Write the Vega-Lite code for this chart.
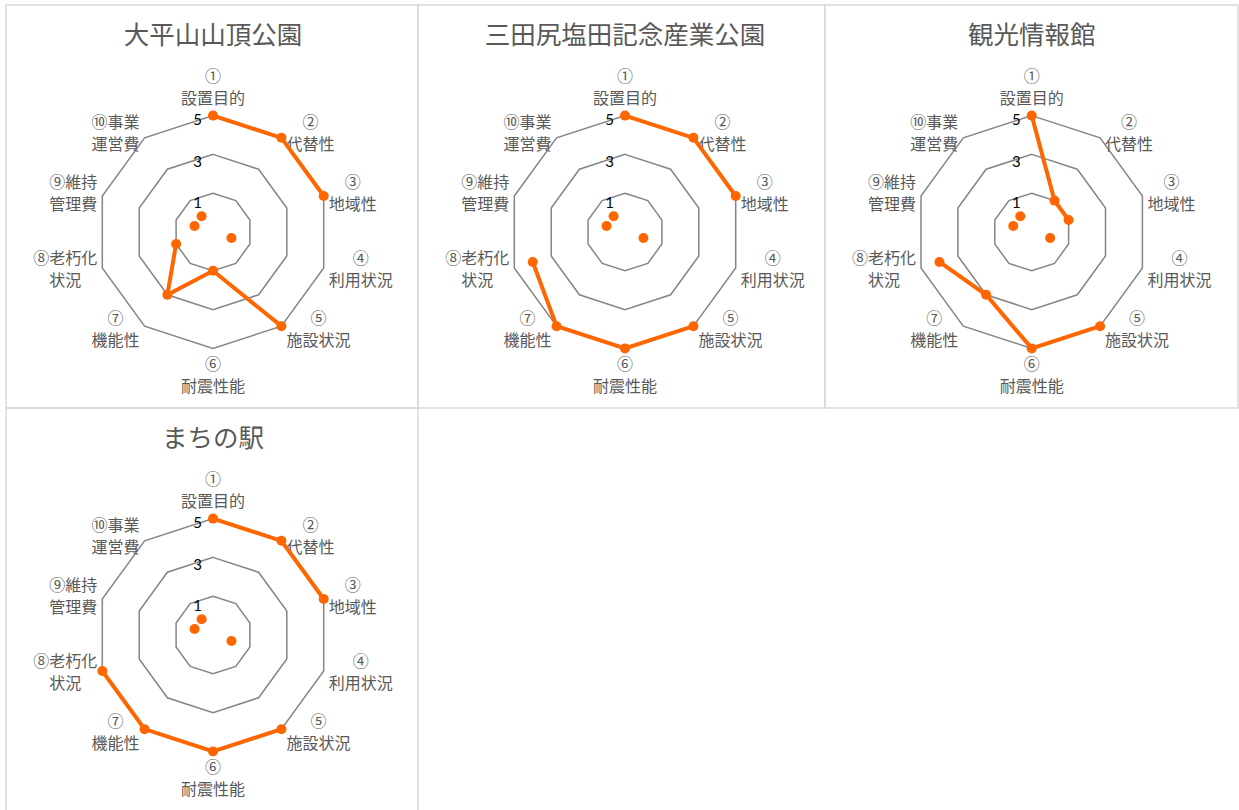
{
  "$schema": "https://vega.github.io/schema/vega-lite/v6.json",
  "background": "white",
  "padding": {"left": 5, "top": 4, "right": 0, "bottom": 0},
  "bounds": "flush",
  "align": "each",
  "config": {
    "view": {"stroke": "#d9d9d9", "strokeWidth": 1.5},
    "concat": {"spacing": 0},
    "text": {"font": "Noto Sans CJK JP"}
  },
  "datasets": {
    "scores": [
      {"facility": "大平山山頂公園", "i": 1, "v": 5},
      {"facility": "大平山山頂公園", "i": 2, "v": 5},
      {"facility": "大平山山頂公園", "i": 3, "v": 5},
      {"facility": "大平山山頂公園", "i": 4, "v": null},
      {"facility": "大平山山頂公園", "i": 5, "v": 5},
      {"facility": "大平山山頂公園", "i": 6, "v": 1},
      {"facility": "大平山山頂公園", "i": 7, "v": 3},
      {"facility": "大平山山頂公園", "i": 8, "v": 1},
      {"facility": "大平山山頂公園", "i": 9, "v": null},
      {"facility": "大平山山頂公園", "i": 10, "v": null},
      {"facility": "三田尻塩田記念産業公園", "i": 1, "v": 5},
      {"facility": "三田尻塩田記念産業公園", "i": 2, "v": 5},
      {"facility": "三田尻塩田記念産業公園", "i": 3, "v": 5},
      {"facility": "三田尻塩田記念産業公園", "i": 4, "v": null},
      {"facility": "三田尻塩田記念産業公園", "i": 5, "v": 5},
      {"facility": "三田尻塩田記念産業公園", "i": 6, "v": 5},
      {"facility": "三田尻塩田記念産業公園", "i": 7, "v": 5},
      {"facility": "三田尻塩田記念産業公園", "i": 8, "v": 4},
      {"facility": "三田尻塩田記念産業公園", "i": 9, "v": null},
      {"facility": "三田尻塩田記念産業公園", "i": 10, "v": null},
      {"facility": "観光情報館", "i": 1, "v": 5},
      {"facility": "観光情報館", "i": 2, "v": 1},
      {"facility": "観光情報館", "i": 3, "v": 1},
      {"facility": "観光情報館", "i": 4, "v": null},
      {"facility": "観光情報館", "i": 5, "v": 5},
      {"facility": "観光情報館", "i": 6, "v": 5},
      {"facility": "観光情報館", "i": 7, "v": 3},
      {"facility": "観光情報館", "i": 8, "v": 4},
      {"facility": "観光情報館", "i": 9, "v": null},
      {"facility": "観光情報館", "i": 10, "v": null},
      {"facility": "まちの駅", "i": 1, "v": 5},
      {"facility": "まちの駅", "i": 2, "v": 5},
      {"facility": "まちの駅", "i": 3, "v": 5},
      {"facility": "まちの駅", "i": 4, "v": null},
      {"facility": "まちの駅", "i": 5, "v": 5},
      {"facility": "まちの駅", "i": 6, "v": 5},
      {"facility": "まちの駅", "i": 7, "v": 5},
      {"facility": "まちの駅", "i": 8, "v": 5},
      {"facility": "まちの駅", "i": 9, "v": null},
      {"facility": "まちの駅", "i": 10, "v": null}
    ],
    "grid": [
      {"ring": 1, "i": 1}, {"ring": 1, "i": 2}, {"ring": 1, "i": 3}, {"ring": 1, "i": 4}, {"ring": 1, "i": 5},
      {"ring": 1, "i": 6}, {"ring": 1, "i": 7}, {"ring": 1, "i": 8}, {"ring": 1, "i": 9}, {"ring": 1, "i": 10},
      {"ring": 3, "i": 1}, {"ring": 3, "i": 2}, {"ring": 3, "i": 3}, {"ring": 3, "i": 4}, {"ring": 3, "i": 5},
      {"ring": 3, "i": 6}, {"ring": 3, "i": 7}, {"ring": 3, "i": 8}, {"ring": 3, "i": 9}, {"ring": 3, "i": 10},
      {"ring": 5, "i": 1}, {"ring": 5, "i": 2}, {"ring": 5, "i": 3}, {"ring": 5, "i": 4}, {"ring": 5, "i": 5},
      {"ring": 5, "i": 6}, {"ring": 5, "i": 7}, {"ring": 5, "i": 8}, {"ring": 5, "i": 9}, {"ring": 5, "i": 10}
    ],
    "axes": [
      {"i": 1, "lab": ["①", "設置目的"]},
      {"i": 2, "lab": ["②", "代替性"]},
      {"i": 3, "lab": ["③", "地域性"]},
      {"i": 4, "lab": ["④", "利用状況"]},
      {"i": 5, "lab": ["⑤", "施設状況"]},
      {"i": 6, "lab": ["⑥", "耐震性能"]},
      {"i": 7, "lab": ["⑦", "機能性"]},
      {"i": 8, "lab": ["⑧老朽化", "状況"]},
      {"i": 9, "lab": ["⑨維持", "管理費"]},
      {"i": 10, "lab": ["⑩事業", "運営費"]}
    ]
  },
  "columns": 3,
  "concat": [
    {
      "width": 412, "height": 403,
      "layer": [
        {"data": {"name": "grid"},
         "transform": [
           {"calculate": "19.4*(datum.ring+1)*sin((datum.i-1)*PI/5)", "as": "x"},
           {"calculate": "19.4*(datum.ring+1)*cos((datum.i-1)*PI/5)", "as": "y"}],
         "mark": {"type": "line", "interpolate": "linear-closed", "color": "#858585", "strokeWidth": 1.5},
         "encoding": {
           "x": {"field": "x", "type": "quantitative", "scale": {"domain": [-207, 205], "nice": false, "zero": false}, "axis": null},
           "y": {"field": "y", "type": "quantitative", "scale": {"domain": [-176, 227], "nice": false, "zero": false}, "axis": null},
           "detail": {"field": "ring", "type": "nominal"},
           "order": {"field": "i", "type": "quantitative"}}},
        {"data": {"name": "grid"},
         "transform": [{"filter": "datum.i == 1"}, {"calculate": "20.72*(datum.ring+1)-12.6", "as": "y"}],
         "mark": {"type": "text", "align": "right", "baseline": "middle", "dx": -11, "font": "Lato", "fontSize": 15, "color": "#000000"},
         "encoding": {
           "x": {"datum": 0, "type": "quantitative", "scale": {"domain": [-207, 205], "nice": false, "zero": false}, "axis": null},
           "y": {"field": "y", "type": "quantitative", "scale": {"domain": [-176, 227], "nice": false, "zero": false}, "axis": null},
           "text": {"field": "ring", "type": "nominal"}}},
        {"data": {"name": "axes"},
         "transform": [
           {"calculate": "sin((datum.i-1)*PI/5)", "as": "sn"},
           {"calculate": "cos((datum.i-1)*PI/5)", "as": "cs"},
           {"calculate": "datum.sn > 0.01 ? 1 : (datum.sn < -0.01 ? -1 : 0)", "as": "s"},
           {"calculate": "16*max(length(datum.lab[0]), length(datum.lab[1]))", "as": "w"},
           {"calculate": "116.4*datum.sn + datum.s*(5 + datum.w/2)", "as": "x"},
           {"calculate": "(datum.s == 0 ? 144.4 : 121.4)*datum.cs + 11", "as": "y"}],
         "mark": {"type": "text", "align": "center", "baseline": "middle", "fontSize": 16, "lineHeight": 22, "color": "#595959"},
         "encoding": {
           "x": {"field": "x", "type": "quantitative", "scale": {"domain": [-207, 205], "nice": false, "zero": false}, "axis": null},
           "y": {"field": "y", "type": "quantitative", "scale": {"domain": [-176, 227], "nice": false, "zero": false}, "axis": null},
           "text": {"field": "lab", "type": "nominal"}}},
        {"data": {"name": "scores"},
         "transform": [{"filter": "datum.facility == '大平山山頂公園' && datum.i == 1"}],
         "mark": {"type": "text", "align": "center", "baseline": "middle", "fontSize": 25.5, "color": "#595959"},
         "encoding": {
           "x": {"datum": 0, "type": "quantitative", "scale": {"domain": [-207, 205], "nice": false, "zero": false}, "axis": null},
           "y": {"datum": 196, "type": "quantitative", "scale": {"domain": [-176, 227], "nice": false, "zero": false}, "axis": null},
           "text": {"field": "facility", "type": "nominal"}}},
        {"data": {"name": "scores"},
         "transform": [
           {"filter": "datum.facility == '大平山山頂公園'"},
           {"calculate": "datum.v == null ? null : 19.4*(datum.v+1)*sin((datum.i-1)*PI/5)", "as": "x"},
           {"calculate": "datum.v == null ? null : 19.4*(datum.v+1)*cos((datum.i-1)*PI/5)", "as": "y"}],
         "mark": {"type": "line", "color": "#FF6600", "strokeWidth": 4, "invalid": "break-paths-filter-domains"},
         "encoding": {
           "x": {"field": "x", "type": "quantitative", "scale": {"domain": [-207, 205], "nice": false, "zero": false}, "axis": null},
           "y": {"field": "y", "type": "quantitative", "scale": {"domain": [-176, 227], "nice": false, "zero": false}, "axis": null},
           "order": {"field": "i", "type": "quantitative"}}},
        {"data": {"name": "scores"},
         "transform": [
           {"filter": "datum.facility == '大平山山頂公園'"},
           {"calculate": "datum.v == null ? 0 : datum.v", "as": "rv"},
           {"calculate": "19.4*(datum.rv+1)*sin((datum.i-1)*PI/5)", "as": "x"},
           {"calculate": "19.4*(datum.rv+1)*cos((datum.i-1)*PI/5)", "as": "y"}],
         "mark": {"type": "point", "shape": "circle", "filled": true, "opacity": 1, "color": "#FF6600", "size": 100},
         "encoding": {
           "x": {"field": "x", "type": "quantitative", "scale": {"domain": [-207, 205], "nice": false, "zero": false}, "axis": null},
           "y": {"field": "y", "type": "quantitative", "scale": {"domain": [-176, 227], "nice": false, "zero": false}, "axis": null}}}
      ]
    },
    {
      "width": 407, "height": 403,
      "layer": [
        {"data": {"name": "grid"},
         "transform": [
           {"calculate": "19.4*(datum.ring+1)*sin((datum.i-1)*PI/5)", "as": "x"},
           {"calculate": "19.4*(datum.ring+1)*cos((datum.i-1)*PI/5)", "as": "y"}],
         "mark": {"type": "line", "interpolate": "linear-closed", "color": "#858585", "strokeWidth": 1.5},
         "encoding": {
           "x": {"field": "x", "type": "quantitative", "scale": {"domain": [-207, 200], "nice": false, "zero": false}, "axis": null},
           "y": {"field": "y", "type": "quantitative", "scale": {"domain": [-176, 227], "nice": false, "zero": false}, "axis": null},
           "detail": {"field": "ring", "type": "nominal"},
           "order": {"field": "i", "type": "quantitative"}}},
        {"data": {"name": "grid"},
         "transform": [{"filter": "datum.i == 1"}, {"calculate": "20.72*(datum.ring+1)-12.6", "as": "y"}],
         "mark": {"type": "text", "align": "right", "baseline": "middle", "dx": -11, "font": "Lato", "fontSize": 15, "color": "#000000"},
         "encoding": {
           "x": {"datum": 0, "type": "quantitative", "scale": {"domain": [-207, 200], "nice": false, "zero": false}, "axis": null},
           "y": {"field": "y", "type": "quantitative", "scale": {"domain": [-176, 227], "nice": false, "zero": false}, "axis": null},
           "text": {"field": "ring", "type": "nominal"}}},
        {"data": {"name": "axes"},
         "transform": [
           {"calculate": "sin((datum.i-1)*PI/5)", "as": "sn"},
           {"calculate": "cos((datum.i-1)*PI/5)", "as": "cs"},
           {"calculate": "datum.sn > 0.01 ? 1 : (datum.sn < -0.01 ? -1 : 0)", "as": "s"},
           {"calculate": "16*max(length(datum.lab[0]), length(datum.lab[1]))", "as": "w"},
           {"calculate": "116.4*datum.sn + datum.s*(5 + datum.w/2)", "as": "x"},
           {"calculate": "(datum.s == 0 ? 144.4 : 121.4)*datum.cs + 11", "as": "y"}],
         "mark": {"type": "text", "align": "center", "baseline": "middle", "fontSize": 16, "lineHeight": 22, "color": "#595959"},
         "encoding": {
           "x": {"field": "x", "type": "quantitative", "scale": {"domain": [-207, 200], "nice": false, "zero": false}, "axis": null},
           "y": {"field": "y", "type": "quantitative", "scale": {"domain": [-176, 227], "nice": false, "zero": false}, "axis": null},
           "text": {"field": "lab", "type": "nominal"}}},
        {"data": {"name": "scores"},
         "transform": [{"filter": "datum.facility == '三田尻塩田記念産業公園' && datum.i == 1"}],
         "mark": {"type": "text", "align": "center", "baseline": "middle", "fontSize": 25.5, "color": "#595959"},
         "encoding": {
           "x": {"datum": 0, "type": "quantitative", "scale": {"domain": [-207, 200], "nice": false, "zero": false}, "axis": null},
           "y": {"datum": 196, "type": "quantitative", "scale": {"domain": [-176, 227], "nice": false, "zero": false}, "axis": null},
           "text": {"field": "facility", "type": "nominal"}}},
        {"data": {"name": "scores"},
         "transform": [
           {"filter": "datum.facility == '三田尻塩田記念産業公園'"},
           {"calculate": "datum.v == null ? null : 19.4*(datum.v+1)*sin((datum.i-1)*PI/5)", "as": "x"},
           {"calculate": "datum.v == null ? null : 19.4*(datum.v+1)*cos((datum.i-1)*PI/5)", "as": "y"}],
         "mark": {"type": "line", "color": "#FF6600", "strokeWidth": 4, "invalid": "break-paths-filter-domains"},
         "encoding": {
           "x": {"field": "x", "type": "quantitative", "scale": {"domain": [-207, 200], "nice": false, "zero": false}, "axis": null},
           "y": {"field": "y", "type": "quantitative", "scale": {"domain": [-176, 227], "nice": false, "zero": false}, "axis": null},
           "order": {"field": "i", "type": "quantitative"}}},
        {"data": {"name": "scores"},
         "transform": [
           {"filter": "datum.facility == '三田尻塩田記念産業公園'"},
           {"calculate": "datum.v == null ? 0 : datum.v", "as": "rv"},
           {"calculate": "19.4*(datum.rv+1)*sin((datum.i-1)*PI/5)", "as": "x"},
           {"calculate": "19.4*(datum.rv+1)*cos((datum.i-1)*PI/5)", "as": "y"}],
         "mark": {"type": "point", "shape": "circle", "filled": true, "opacity": 1, "color": "#FF6600", "size": 100},
         "encoding": {
           "x": {"field": "x", "type": "quantitative", "scale": {"domain": [-207, 200], "nice": false, "zero": false}, "axis": null},
           "y": {"field": "y", "type": "quantitative", "scale": {"domain": [-176, 227], "nice": false, "zero": false}, "axis": null}}}
      ]
    },
    {
      "width": 413, "height": 403,
      "layer": [
        {"data": {"name": "grid"},
         "transform": [
           {"calculate": "19.4*(datum.ring+1)*sin((datum.i-1)*PI/5)", "as": "x"},
           {"calculate": "19.4*(datum.ring+1)*cos((datum.i-1)*PI/5)", "as": "y"}],
         "mark": {"type": "line", "interpolate": "linear-closed", "color": "#858585", "strokeWidth": 1.5},
         "encoding": {
           "x": {"field": "x", "type": "quantitative", "scale": {"domain": [-206.7, 206.3], "nice": false, "zero": false}, "axis": null},
           "y": {"field": "y", "type": "quantitative", "scale": {"domain": [-176, 227], "nice": false, "zero": false}, "axis": null},
           "detail": {"field": "ring", "type": "nominal"},
           "order": {"field": "i", "type": "quantitative"}}},
        {"data": {"name": "grid"},
         "transform": [{"filter": "datum.i == 1"}, {"calculate": "20.72*(datum.ring+1)-12.6", "as": "y"}],
         "mark": {"type": "text", "align": "right", "baseline": "middle", "dx": -11, "font": "Lato", "fontSize": 15, "color": "#000000"},
         "encoding": {
           "x": {"datum": 0, "type": "quantitative", "scale": {"domain": [-206.7, 206.3], "nice": false, "zero": false}, "axis": null},
           "y": {"field": "y", "type": "quantitative", "scale": {"domain": [-176, 227], "nice": false, "zero": false}, "axis": null},
           "text": {"field": "ring", "type": "nominal"}}},
        {"data": {"name": "axes"},
         "transform": [
           {"calculate": "sin((datum.i-1)*PI/5)", "as": "sn"},
           {"calculate": "cos((datum.i-1)*PI/5)", "as": "cs"},
           {"calculate": "datum.sn > 0.01 ? 1 : (datum.sn < -0.01 ? -1 : 0)", "as": "s"},
           {"calculate": "16*max(length(datum.lab[0]), length(datum.lab[1]))", "as": "w"},
           {"calculate": "116.4*datum.sn + datum.s*(5 + datum.w/2)", "as": "x"},
           {"calculate": "(datum.s == 0 ? 144.4 : 121.4)*datum.cs + 11", "as": "y"}],
         "mark": {"type": "text", "align": "center", "baseline": "middle", "fontSize": 16, "lineHeight": 22, "color": "#595959"},
         "encoding": {
           "x": {"field": "x", "type": "quantitative", "scale": {"domain": [-206.7, 206.3], "nice": false, "zero": false}, "axis": null},
           "y": {"field": "y", "type": "quantitative", "scale": {"domain": [-176, 227], "nice": false, "zero": false}, "axis": null},
           "text": {"field": "lab", "type": "nominal"}}},
        {"data": {"name": "scores"},
         "transform": [{"filter": "datum.facility == '観光情報館' && datum.i == 1"}],
         "mark": {"type": "text", "align": "center", "baseline": "middle", "fontSize": 25.5, "color": "#595959"},
         "encoding": {
           "x": {"datum": 0, "type": "quantitative", "scale": {"domain": [-206.7, 206.3], "nice": false, "zero": false}, "axis": null},
           "y": {"datum": 196, "type": "quantitative", "scale": {"domain": [-176, 227], "nice": false, "zero": false}, "axis": null},
           "text": {"field": "facility", "type": "nominal"}}},
        {"data": {"name": "scores"},
         "transform": [
           {"filter": "datum.facility == '観光情報館'"},
           {"calculate": "datum.v == null ? null : 19.4*(datum.v+1)*sin((datum.i-1)*PI/5)", "as": "x"},
           {"calculate": "datum.v == null ? null : 19.4*(datum.v+1)*cos((datum.i-1)*PI/5)", "as": "y"}],
         "mark": {"type": "line", "color": "#FF6600", "strokeWidth": 4, "invalid": "break-paths-filter-domains"},
         "encoding": {
           "x": {"field": "x", "type": "quantitative", "scale": {"domain": [-206.7, 206.3], "nice": false, "zero": false}, "axis": null},
           "y": {"field": "y", "type": "quantitative", "scale": {"domain": [-176, 227], "nice": false, "zero": false}, "axis": null},
           "order": {"field": "i", "type": "quantitative"}}},
        {"data": {"name": "scores"},
         "transform": [
           {"filter": "datum.facility == '観光情報館'"},
           {"calculate": "datum.v == null ? 0 : datum.v", "as": "rv"},
           {"calculate": "19.4*(datum.rv+1)*sin((datum.i-1)*PI/5)", "as": "x"},
           {"calculate": "19.4*(datum.rv+1)*cos((datum.i-1)*PI/5)", "as": "y"}],
         "mark": {"type": "point", "shape": "circle", "filled": true, "opacity": 1, "color": "#FF6600", "size": 100},
         "encoding": {
           "x": {"field": "x", "type": "quantitative", "scale": {"domain": [-206.7, 206.3], "nice": false, "zero": false}, "axis": null},
           "y": {"field": "y", "type": "quantitative", "scale": {"domain": [-176, 227], "nice": false, "zero": false}, "axis": null}}}
      ]
    },
    {
      "width": 412, "height": 403,
      "layer": [
        {"data": {"name": "grid"},
         "transform": [
           {"calculate": "19.4*(datum.ring+1)*sin((datum.i-1)*PI/5)", "as": "x"},
           {"calculate": "19.4*(datum.ring+1)*cos((datum.i-1)*PI/5)", "as": "y"}],
         "mark": {"type": "line", "interpolate": "linear-closed", "color": "#858585", "strokeWidth": 1.5},
         "encoding": {
           "x": {"field": "x", "type": "quantitative", "scale": {"domain": [-207, 205], "nice": false, "zero": false}, "axis": null},
           "y": {"field": "y", "type": "quantitative", "scale": {"domain": [-176, 227], "nice": false, "zero": false}, "axis": null},
           "detail": {"field": "ring", "type": "nominal"},
           "order": {"field": "i", "type": "quantitative"}}},
        {"data": {"name": "grid"},
         "transform": [{"filter": "datum.i == 1"}, {"calculate": "20.72*(datum.ring+1)-12.6", "as": "y"}],
         "mark": {"type": "text", "align": "right", "baseline": "middle", "dx": -11, "font": "Lato", "fontSize": 15, "color": "#000000"},
         "encoding": {
           "x": {"datum": 0, "type": "quantitative", "scale": {"domain": [-207, 205], "nice": false, "zero": false}, "axis": null},
           "y": {"field": "y", "type": "quantitative", "scale": {"domain": [-176, 227], "nice": false, "zero": false}, "axis": null},
           "text": {"field": "ring", "type": "nominal"}}},
        {"data": {"name": "axes"},
         "transform": [
           {"calculate": "sin((datum.i-1)*PI/5)", "as": "sn"},
           {"calculate": "cos((datum.i-1)*PI/5)", "as": "cs"},
           {"calculate": "datum.sn > 0.01 ? 1 : (datum.sn < -0.01 ? -1 : 0)", "as": "s"},
           {"calculate": "16*max(length(datum.lab[0]), length(datum.lab[1]))", "as": "w"},
           {"calculate": "116.4*datum.sn + datum.s*(5 + datum.w/2)", "as": "x"},
           {"calculate": "(datum.s == 0 ? 144.4 : 121.4)*datum.cs + 11", "as": "y"}],
         "mark": {"type": "text", "align": "center", "baseline": "middle", "fontSize": 16, "lineHeight": 22, "color": "#595959"},
         "encoding": {
           "x": {"field": "x", "type": "quantitative", "scale": {"domain": [-207, 205], "nice": false, "zero": false}, "axis": null},
           "y": {"field": "y", "type": "quantitative", "scale": {"domain": [-176, 227], "nice": false, "zero": false}, "axis": null},
           "text": {"field": "lab", "type": "nominal"}}},
        {"data": {"name": "scores"},
         "transform": [{"filter": "datum.facility == 'まちの駅' && datum.i == 1"}],
         "mark": {"type": "text", "align": "center", "baseline": "middle", "fontSize": 25.5, "color": "#595959"},
         "encoding": {
           "x": {"datum": 0, "type": "quantitative", "scale": {"domain": [-207, 205], "nice": false, "zero": false}, "axis": null},
           "y": {"datum": 196, "type": "quantitative", "scale": {"domain": [-176, 227], "nice": false, "zero": false}, "axis": null},
           "text": {"field": "facility", "type": "nominal"}}},
        {"data": {"name": "scores"},
         "transform": [
           {"filter": "datum.facility == 'まちの駅'"},
           {"calculate": "datum.v == null ? null : 19.4*(datum.v+1)*sin((datum.i-1)*PI/5)", "as": "x"},
           {"calculate": "datum.v == null ? null : 19.4*(datum.v+1)*cos((datum.i-1)*PI/5)", "as": "y"}],
         "mark": {"type": "line", "color": "#FF6600", "strokeWidth": 4, "invalid": "break-paths-filter-domains"},
         "encoding": {
           "x": {"field": "x", "type": "quantitative", "scale": {"domain": [-207, 205], "nice": false, "zero": false}, "axis": null},
           "y": {"field": "y", "type": "quantitative", "scale": {"domain": [-176, 227], "nice": false, "zero": false}, "axis": null},
           "order": {"field": "i", "type": "quantitative"}}},
        {"data": {"name": "scores"},
         "transform": [
           {"filter": "datum.facility == 'まちの駅'"},
           {"calculate": "datum.v == null ? 0 : datum.v", "as": "rv"},
           {"calculate": "19.4*(datum.rv+1)*sin((datum.i-1)*PI/5)", "as": "x"},
           {"calculate": "19.4*(datum.rv+1)*cos((datum.i-1)*PI/5)", "as": "y"}],
         "mark": {"type": "point", "shape": "circle", "filled": true, "opacity": 1, "color": "#FF6600", "size": 100},
         "encoding": {
           "x": {"field": "x", "type": "quantitative", "scale": {"domain": [-207, 205], "nice": false, "zero": false}, "axis": null},
           "y": {"field": "y", "type": "quantitative", "scale": {"domain": [-176, 227], "nice": false, "zero": false}, "axis": null}}}
      ]
    }
  ]
}
